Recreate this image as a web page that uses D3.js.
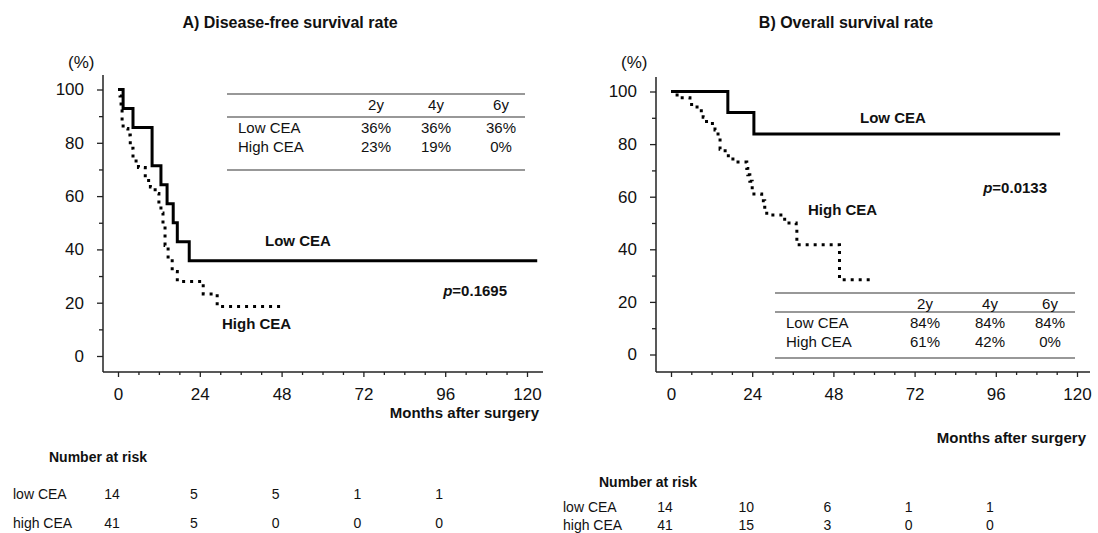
<!DOCTYPE html>
<html>
<head>
<meta charset="utf-8">
<script src="https://cdn.jsdelivr.net/npm/d3@7"></script>
<style>
  body { margin: 0; background: #fff; }
  text { font-family: "Liberation Sans", Arial, sans-serif; fill: #111; }
</style>
</head>
<body>
<svg id="chart" width="1098" height="533"></svg>
<script>
// x ticks (months) and y ticks (%)
var monthTicks = [0, 24, 48, 72, 96, 120];
var pctTicks = [0, 20, 40, 60, 80, 100];
var groups = ["Low CEA", "High CEA"];
var riskGroups = ["low CEA", "high CEA"];
var yearCols = ["2y", "4y", "6y"];

// A) disease-free survival
var dfsLowTime = [0, 1.5, 4.4, 10, 12.6, 14.4, 16.2, 17.4, 20.9, 123];
var dfsLowSurv = [100, 92.9, 85.7, 71.4, 64.3, 57.1, 50, 42.9, 35.7, 35.7];
var dfsHighTime = [0, 0.6, 0.9, 1.2, 1.5, 2.9, 3.6, 4.4, 6.0, 8.0, 9.5, 10.9, 12.0, 12.6, 13.2, 13.8, 14.7, 15.9, 17.4, 25.0, 29.1, 47.6];
var dfsHighSurv = [100, 97.6, 92.7, 87.8, 85.4, 82.9, 78.0, 73.2, 70.7, 65.9, 63.4, 61.0, 56.1, 53.7, 48.8, 41.5, 36.6, 31.7, 28.0, 23.3, 18.6, 18.6];
var dfsTable = [["36%", "36%", "36%"], ["23%", "19%", "0%"]];
var dfsRiskLow = [14, 5, 5, 1, 1];
var dfsRiskHigh = [41, 5, 0, 0, 0];

// B) overall survival
var osLowTime = [0, 16.8, 24.5, 115];
var osLowSurv = [100, 92, 83.8, 83.8];
var osHighTime = [0, 1.8, 5.6, 7.7, 9.5, 10.5, 13, 13.9, 14.5, 16, 18.3, 22.4, 22.7, 23.3, 24, 26.8, 27.7, 28.3, 33.6, 37, 37.2, 49.8, 59.6];
var osHighSurv = [100, 97.6, 95.1, 92.7, 90.2, 87.8, 85.4, 82.9, 78.0, 75.6, 73.2, 70.7, 68.3, 65.9, 61.0, 58.5, 56.0, 53.0, 50.0, 47.5, 41.7, 28.4, 28.4];
var osTable = [["84%", "84%", "84%"], ["61%", "42%", "0%"]];
var osRiskLow = [14, 10, 6, 1, 1];
var osRiskHigh = [41, 15, 3, 0, 0];

var svg = d3.select("#chart");

function zip(t, s) {
  return t.map(function (d, i) { return { t: d, s: s[i] }; });
}

function drawPanel(c) {
  var x = d3.scaleLinear().domain([0, 120]).range([c.x0, c.x120]);
  var y = d3.scaleLinear().domain([0, 100]).range([c.y0, c.y100]);
  var g = svg.append("g");

  g.append("text").attr("x", c.titleX).attr("y", 28).attr("text-anchor", "middle")
    .style("font-size", "16px").style("font-weight", "bold").text(c.title);
  g.append("text").attr("x", c.axisX - 35).attr("y", 68).style("font-size", "17px").text("(%)");

  // y axis
  var ya = g.append("g").attr("transform", "translate(" + c.axisX + ",0)")
    .call(d3.axisLeft(y).tickValues(pctTicks).tickSize(6).tickPadding(13).tickSizeOuter(0));
  ya.select(".domain").remove();
  ya.selectAll("text").style("font-size", "17px").style("font-family", "Liberation Sans, Arial");
  g.append("g").attr("transform", "translate(" + c.axisX + ",0)")
    .call(d3.axisLeft(y).tickValues([10, 30, 50, 70, 90]).tickSize(4).tickFormat(""))
    .select(".domain").remove();
  g.append("line").attr("x1", c.axisX).attr("x2", c.axisX).attr("y1", c.axisTop).attr("y2", c.axisBottom)
    .attr("stroke", "#222").attr("stroke-width", 1.5);

  // x axis
  var xa = g.append("g").attr("transform", "translate(0," + c.axisBottom + ")")
    .call(d3.axisBottom(x).tickValues(monthTicks).tickSize(5).tickPadding(11).tickSizeOuter(0));
  xa.select(".domain").remove();
  xa.selectAll("text").style("font-size", "17px").style("font-family", "Liberation Sans, Arial");
  g.append("g").attr("transform", "translate(0," + c.axisBottom + ")")
    .call(d3.axisBottom(x).tickValues(d3.range(6, 120, 6).filter(function (d) { return d % 24; })).tickSize(3).tickFormat(""))
    .select(".domain").remove();
  g.append("line").attr("x1", c.axisX).attr("x2", c.axisRight).attr("y1", c.axisBottom).attr("y2", c.axisBottom)
    .attr("stroke", "#222").attr("stroke-width", 1.5);
  g.selectAll(".tick line").attr("stroke", "#222").attr("stroke-width", 1.3);

  g.append("text").attr("x", c.axisRight - 4).attr("y", c.monthsY).attr("text-anchor", "end")
    .style("font-size", "15px").style("font-weight", "bold").text("Months after surgery");

  // curves
  var line = d3.line().x(function (d) { return x(d.t); }).y(function (d) { return y(d.s); })
    .curve(d3.curveStepAfter);
  g.append("path").datum(zip(c.lowTime, c.lowSurv)).attr("d", line)
    .attr("fill", "none").attr("stroke", "#000").attr("stroke-width", 3);
  g.append("path").datum(zip(c.highTime, c.highSurv)).attr("d", line)
    .attr("fill", "none").attr("stroke", "#000").attr("stroke-width", 3)
    .attr("stroke-dasharray", "3,5");

  // curve labels
  c.labels.forEach(function (l) {
    g.append("text").attr("x", l.x).attr("y", l.y).style("font-size", "15px").style("font-weight", "bold").text(l.text);
  });
  var p = g.append("text").attr("x", c.pX).attr("y", c.pY).attr("text-anchor", "end")
    .style("font-size", "15px").style("font-weight", "bold");
  p.append("tspan").style("font-style", "italic").text("p");
  p.append("tspan").text(c.pText);

  // survival table
  var tb = c.table;
  [tb.top, tb.mid, tb.bottom].forEach(function (ly) {
    g.append("line").attr("x1", tb.x1).attr("x2", tb.x2).attr("y1", ly).attr("y2", ly)
      .attr("stroke", "#333").attr("stroke-width", 1.2);
  });
  yearCols.forEach(function (h, j) {
    g.append("text").attr("x", tb.cols[j]).attr("y", tb.top + 16).attr("text-anchor", "middle")
      .style("font-size", "15px").text(h);
  });
  groups.forEach(function (name, i) {
    var ry = tb.mid + 16 + i * 19;
    g.append("text").attr("x", tb.x1 + 11).attr("y", ry).style("font-size", "15px").text(name);
    c.tableVals[i].forEach(function (v, j) {
      g.append("text").attr("x", tb.cols[j]).attr("y", ry).attr("text-anchor", "middle")
        .style("font-size", "15px").text(v);
    });
  });

  // number at risk
  g.append("text").attr("x", c.riskX).attr("y", c.riskY).style("font-size", "14px").style("font-weight", "bold")
    .text("Number at risk");
  [c.riskLow, c.riskHigh].forEach(function (row, i) {
    var ry = c.riskY + c.rowGap1 + i * c.rowGap2;
    g.append("text").attr("x", c.riskLabelX).attr("y", ry).style("font-size", "14px").text(riskGroups[i]);
    row.forEach(function (v, j) {
      g.append("text").attr("x", x(monthTicks[j]) - 6).attr("y", ry).attr("text-anchor", "middle")
        .style("font-size", "14px").text(v);
    });
  });
}

drawPanel({
  title: "A) Disease-free survival rate", titleX: 290,
  axisX: 103, x0: 118, x120: 527, y0: 356, y100: 89.5, axisTop: 75, axisBottom: 372, axisRight: 543,
  monthsY: 418,
  lowTime: dfsLowTime, lowSurv: dfsLowSurv, highTime: dfsHighTime, highSurv: dfsHighSurv,
  labels: [{ text: "Low CEA", x: 265, y: 246 }, { text: "High CEA", x: 222, y: 329 }],
  pX: 507, pY: 296, pText: "=0.1695",
  table: { x1: 227, x2: 525, top: 94, mid: 117, bottom: 170, cols: [376, 436, 501] },
  tableVals: dfsTable,
  riskX: 49, riskY: 462, rowGap1: 37, rowGap2: 29, riskLabelX: 13,
  riskLow: dfsRiskLow, riskHigh: dfsRiskHigh
});

drawPanel({
  title: "B) Overall survival rate", titleX: 846,
  axisX: 656, x0: 671, x120: 1077, y0: 354.5, y100: 91.5, axisTop: 77, axisBottom: 372, axisRight: 1090,
  monthsY: 443,
  lowTime: osLowTime, lowSurv: osLowSurv, highTime: osHighTime, highSurv: osHighSurv,
  labels: [{ text: "Low CEA", x: 860, y: 123 }, { text: "High CEA", x: 808, y: 215 }],
  pX: 1047, pY: 193, pText: "=0.0133",
  table: { x1: 775, x2: 1075, top: 293, mid: 312, bottom: 358, cols: [925, 990, 1050] },
  tableVals: osTable,
  riskX: 599, riskY: 487, rowGap1: 25, rowGap2: 18, riskLabelX: 563,
  riskLow: osRiskLow, riskHigh: osRiskHigh
});
</script>
</body>
</html>
